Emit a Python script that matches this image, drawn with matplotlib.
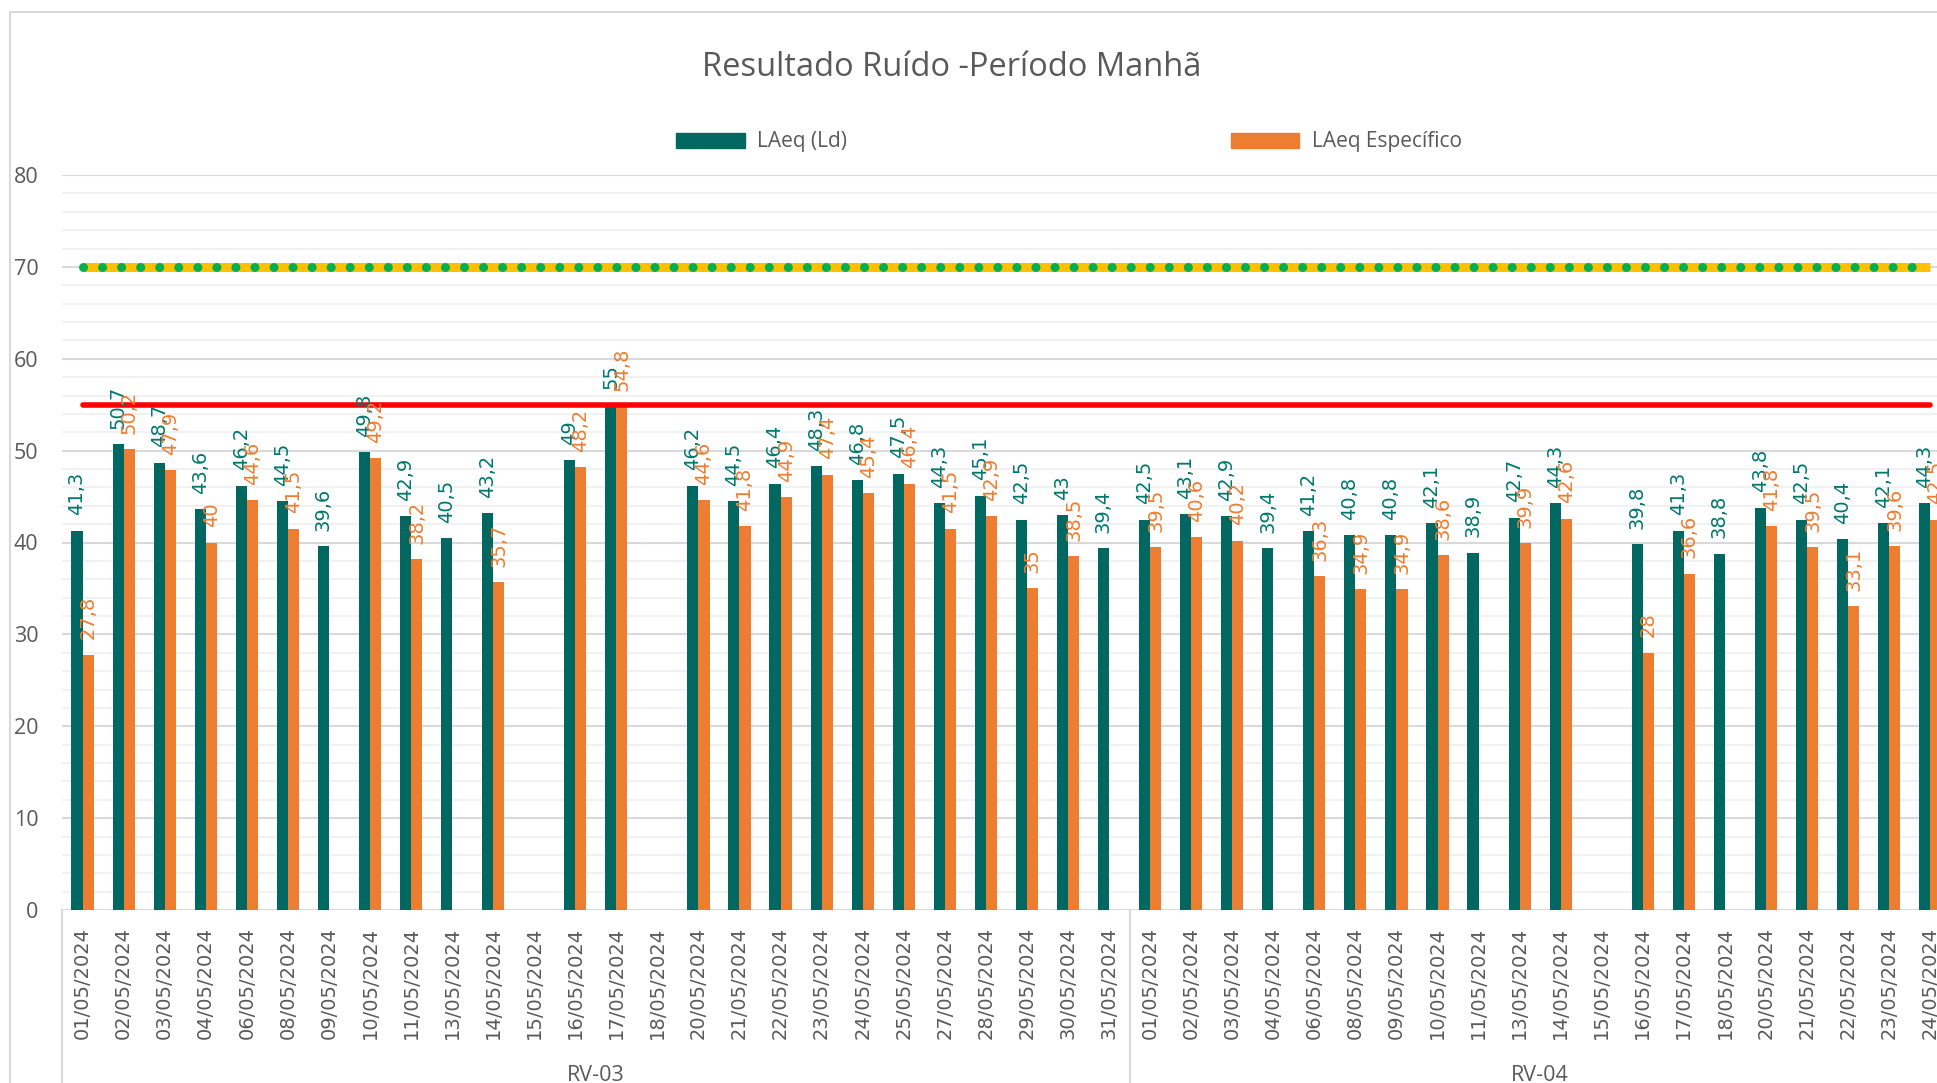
import numpy as np
import matplotlib
matplotlib.use("Agg")
import matplotlib.pyplot as plt
from matplotlib.lines import Line2D
from matplotlib.patches import Patch

# Dados (None = sem medição)
dias_rv03 = ["01", "02", "03", "04", "06", "08", "09", "10", "11", "13", "14", "15", "16",
             "17", "18", "20", "21", "22", "23", "24", "25", "27", "28", "29", "30", "31"]
dias_rv04 = ["01", "02", "03", "04", "06", "08", "09", "10", "11", "13", "14", "15", "16",
             "17", "18", "20", "21", "22", "23", "24"]

laeq_rv03 = [41.3, 50.7, 48.7, 43.6, 46.2, 44.5, 39.6, 49.8, 42.9, 40.5, 43.2, None, 49.0,
             55.0, None, 46.2, 44.5, 46.4, 48.3, 46.8, 47.5, 44.3, 45.1, 42.5, 43.0, 39.4]
esp_rv03 = [27.8, 50.2, 47.9, 40.0, 44.6, 41.5, None, 49.2, 38.2, None, 35.7, None, 48.2,
            54.8, None, 44.6, 41.8, 44.9, 47.4, 45.4, 46.4, 41.5, 42.9, 35.0, 38.5, None]
laeq_rv04 = [42.5, 43.1, 42.9, 39.4, 41.2, 40.8, 40.8, 42.1, 38.9, 42.7, 44.3, None, 39.8,
             41.3, 38.8, 43.8, 42.5, 40.4, 42.1, 44.3]
esp_rv04 = [39.5, 40.6, 40.2, None, 36.3, 34.9, 34.9, 38.6, None, 39.9, 42.6, None, 28.0,
            36.6, None, 41.8, 39.5, 33.1, 39.6, 42.5]

limite_vermelho = 55
limite_amarelo = 70

grupos = ["RV-03", "RV-04"]

datas = [d + "/05/2024" for d in dias_rv03] + [d + "/05/2024" for d in dias_rv04]
laeq = np.array([np.nan if v is None else v for v in laeq_rv03 + laeq_rv04])
esp = np.array([np.nan if v is None else v for v in esp_rv03 + esp_rv04])
n = len(datas)
x = np.arange(n)

verde_azul = "#006861"
laranja = "#ED7D31"
cinza = "#595959"


def fmt(v):
    if v == int(v):
        return str(int(v))
    return ("%.1f" % v).replace(".", ",")


W, H = 1937, 1083
fig = plt.figure(figsize=(W / 100, H / 100), dpi=100)
esq, base, passo = 62, 910, 41.06
ax = fig.add_axes([esq / W, (H - base) / H, n * passo / W, 735 / H])

larg = 0.27
ax.bar(x - larg / 2, laeq, larg, color=verde_azul, zorder=3, label="LAeq (Ld)")
ax.bar(x + larg / 2, esp, larg, color=laranja, zorder=3, label="LAeq Específico")

ax.plot(x, [limite_vermelho] * n, color="#FF0000", lw=4, solid_capstyle="round", zorder=4)
ax.plot(x, [limite_amarelo] * n, color="#FFC000", lw=6.5, solid_capstyle="butt", zorder=4)
ax.plot(x, [limite_amarelo] * n, color="#00B050", lw=6.5, linestyle=(0, (0.01, 2.1)),
        dash_capstyle="round", zorder=5)

# rótulos de dados
for i in range(n):
    for serie, dx, cor in ((laeq, -larg / 2, "#00786E"), (esp, larg / 2, laranja)):
        v = serie[i]
        if np.isnan(v):
            continue
        ax.annotate(fmt(v), (x[i] + dx, v), xytext=(0, 11), textcoords="offset points",
                    rotation=90, ha="center", va="bottom", fontsize=14, color=cor,
                    family="DejaVu Sans", zorder=6)

ax.set_xlim(-0.5, n - 0.5)
ax.set_ylim(0, 80)
ax.set_yticks(range(0, 81, 10))
ax.set_yticks(range(0, 81, 2), minor=True)
ax.grid(axis="y", which="major", color="#d9d9d9", lw=1.5, zorder=0)
ax.grid(axis="y", which="minor", color="#efefef", lw=1.2, zorder=0)
for s in ax.spines.values():
    s.set_visible(False)
ax.tick_params(axis="y", which="both", length=0, pad=17, labelsize=15.5, labelcolor=cinza)
for t in ax.get_yticklabels():
    t.set_family("Open Sans")
ax.set_xticks(x)
ax.set_xticklabels(datas, rotation=90, fontsize=14, color=cinza, family="DejaVu Sans")
ax.tick_params(axis="x", length=0, pad=12)

# separadores e nomes dos grupos
trans = ax.get_xaxis_transform()
n03 = len(dias_rv03)
for xs in (-0.5, n03 - 0.5):
    ax.plot([xs, xs], [0, -0.3], transform=trans, color="#d9d9d9", lw=1.5, clip_on=False)
ax.text((n03 - 1) / 2, -0.2245, grupos[0], transform=trans, ha="center", va="center",
        fontsize=15.5, color=cinza, family="Open Sans")
ax.text((n03 + n - 1) / 2, -0.2245, grupos[1], transform=trans, ha="center", va="center",
        fontsize=15.5, color=cinza, family="Open Sans")

fig.text(952 / W, 1 - 68 / H, "Resultado Ruído -Período Manhã", ha="center", va="center",
         fontsize=23.5, color=cinza, family="Open Sans")

handles = [Patch(color=verde_azul), Patch(color=laranja)]
fig.legend(handles, ["LAeq (Ld)", "LAeq Específico"], loc="center left",
           bbox_to_anchor=(676 / W, 1 - 142 / H), ncol=2, frameon=False, borderpad=0,
           borderaxespad=0, handlelength=3.3, handleheight=0.72, handletextpad=0.6,
           columnspacing=18.4, prop={"family": "Open Sans", "size": 15}, labelcolor=cinza)

# moldura da área do gráfico
fig.add_artist(Line2D([10 / W, 10 / W], [0, 1 - 12 / H], color="#d9d9d9", lw=1.5))
fig.add_artist(Line2D([10 / W, 1], [1 - 12 / H, 1 - 12 / H], color="#d9d9d9", lw=1.5))

fig.savefig("out.png", dpi=100)
